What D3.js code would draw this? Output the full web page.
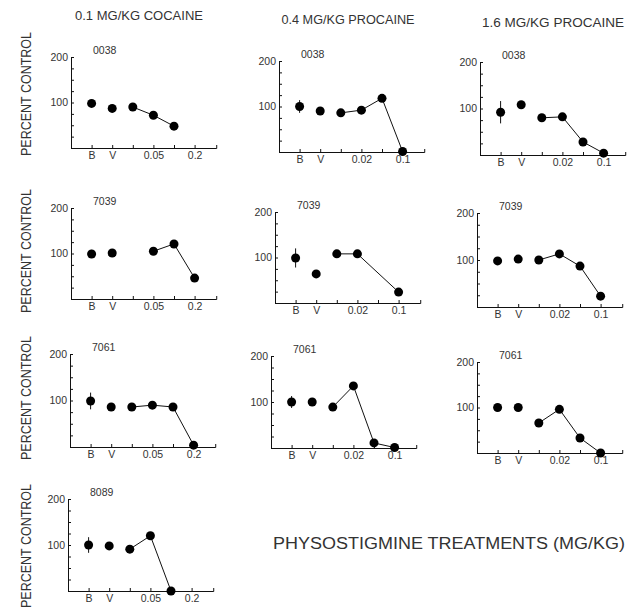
<!DOCTYPE html>
<html>
<head>
<meta charset="utf-8">
<script src="https://cdn.jsdelivr.net/npm/d3@7"></script>
<style>
  body { margin: 0; background: #fff; }
  svg text { font-family: 'Liberation Sans', 'DejaVu Sans', sans-serif; fill: #333; }
</style>
</head>
<body>
<div id="chart"></div>
<script>
var W = 636
var H = 607

// column headings (pretreatment)
var pretreatments = ['0.1 MG/KG COCAINE', '0.4 MG/KG PROCAINE', '1.6 MG/KG PROCAINE']
// x tick labels: B, V, then four physostigmine doses
var cocaineTicks = ['B', 'V', '', '0.05', '', '0.2']
var procaineTicks = ['B', 'V', '', '0.02', '', '0.1']

// percent control, null = not tested
var coc0038 = [98, 87, 90, 72, 48, null]
var coc7039 = [99, 101, null, 105, 121, 46]
var coc7061 = [99, 86, 86, 90, 86, 4]
var coc8089 = [100, 98, 91, 120, 0, null]
var lo0038 = [100, 90, 86, 92, 118, 1]
var lo7039 = [99, 64, 108, 108, null, 24]
var lo7061 = [100, 100, 89, 135, 11, 1]
var hi0038 = [92, 108, 80, 82, 28, 4]
var hi7039 = [98, 102, 100, 113, 87, 23]
var hi7061 = [100, 100, 66, 96, 33, 0]

// +/- on the baseline (B) point
var cocErrB = [0, 9, 18, 17]
var loErrB = [14, 21, 13]
var hiErrB = [24, 0, 0]

var panels = [
  { id: '0038', col: 0, vals: coc0038, err: cocErrB[0] },
  { id: '7039', col: 0, vals: coc7039, err: cocErrB[1] },
  { id: '7061', col: 0, vals: coc7061, err: cocErrB[2] },
  { id: '8089', col: 0, vals: coc8089, err: cocErrB[3] },
  { id: '0038', col: 1, vals: lo0038, err: loErrB[0] },
  { id: '7039', col: 1, vals: lo7039, err: loErrB[1] },
  { id: '7061', col: 1, vals: lo7061, err: loErrB[2] },
  { id: '0038', col: 2, vals: hi0038, err: hiErrB[0] },
  { id: '7039', col: 2, vals: hi7039, err: hiErrB[1] },
  { id: '7061', col: 2, vals: hi7061, err: hiErrB[2] }
]

// layout: y-axis x, y of 200, y of 0 (scanned page is a bit skewed)
var boxes = [
  [71, 57, 148], [71, 208, 299], [70, 354, 447], [68, 499, 591],
  [279, 61, 152], [275, 212, 303], [271, 356, 448],
  [480, 62, 155], [477, 213, 307], [477, 362, 453]
]
var step = 20.6
var xEnd = 7.05

var svg = d3.select('#chart')
  .append('svg')
  .attr('width', W)
  .attr('height', H)

svg.append('rect').attr('width', W).attr('height', H).attr('fill', '#fff')

// headings
var headX = [139, 348, 553]
var headY = [20, 24, 27]
var headLen = [128, 133, 142]
svg.selectAll('text.head')
  .data(pretreatments)
  .enter()
  .append('text')
  .attr('class', 'head')
  .attr('x', function (d, i) { return headX[i] - headLen[i] / 2 })
  .attr('y', function (d, i) { return headY[i] })
  .attr('textLength', function (d, i) { return headLen[i] })
  .attr('lengthAdjust', 'spacingAndGlyphs')
  .style('font-size', '12px')
  .text(function (d) { return d })

// PERCENT CONTROL, one per row
var rowMid = [94, 251, 398, 546]
rowMid.forEach(function (m) {
  svg.append('text')
    .attr('transform', 'translate(31,' + m + ') rotate(-90)')
    .attr('text-anchor', 'middle')
    .attr('textLength', 124)
    .attr('lengthAdjust', 'spacingAndGlyphs')
    .style('font-size', '14px')
    .text('PERCENT CONTROL')
})

panels.forEach(function (p, i) {
  var b = boxes[i]
  var x = d3.scaleLinear().domain([0, xEnd]).range([b[0], b[0] + xEnd * step])
  var y = d3.scaleLinear().domain([0, 200]).range([b[2], b[1]])
  var ticks = p.col === 0 ? cocaineTicks : procaineTicks
  var g = svg.append('g')

  var yAxis = d3.axisLeft(y)
    .tickValues([0, 25, 50, 75, 100, 125, 150, 175, 200])
    .tickSizeInner(-3)
    .tickSizeOuter(0)
    .tickPadding(3)
    .tickFormat(function (d) { return d === 100 || d === 200 ? d : '' })
  g.append('g')
    .attr('transform', 'translate(' + b[0] + ',0)')
    .call(yAxis)

  var xAxis = d3.axisBottom(x)
    .tickValues([1, 2, 3, 4, 5, 6])
    .tickSizeInner(-3)
    .tickSizeOuter(-3)
    .tickPadding(4)
    .tickFormat(function (d) { return ticks[d - 1] })
  g.append('g')
    .attr('transform', 'translate(0,' + b[2] + ')')
    .call(xAxis)

  g.selectAll('.domain, .tick line').attr('stroke', '#111').attr('stroke-width', 1)
  g.selectAll('.tick text')
    .style('font-size', '10.5px')
    .style('font-family', "'Liberation Sans', sans-serif")
    .attr('fill', '#333')

  svg.append('text')
    .attr('x', b[0] + 22)
    .attr('y', b[1] - 3)
    .style('font-size', '10.5px')
    .text(p.id)

  var pts = p.vals.map(function (v, k) { return { k: k + 1, v: v } })
    .filter(function (d) { return d.v !== null })
  var doses = pts.filter(function (d) { return d.k > 2 })

  var line = d3.line()
    .x(function (d) { return x(d.k) })
    .y(function (d) { return y(d.v) })
  g.append('path')
    .attr('d', line(doses))
    .attr('fill', 'none')
    .attr('stroke', '#111')
    .attr('stroke-width', 1)

  if (p.err > 0) {
    g.append('line')
      .attr('x1', x(1)).attr('x2', x(1))
      .attr('y1', y(p.vals[0] - p.err))
      .attr('y2', y(p.vals[0] + p.err))
      .attr('stroke', '#111')
      .attr('stroke-width', 1)
  }

  g.selectAll('circle')
    .data(pts)
    .enter()
    .append('circle')
    .attr('cx', function (d) { return x(d.k) })
    .attr('cy', function (d) { return y(d.v) })
    .attr('r', 4.5)
    .attr('fill', '#000')
})

svg.append('text')
  .attr('x', 273)
  .attr('y', 549)
  .attr('textLength', 352)
  .attr('lengthAdjust', 'spacingAndGlyphs')
  .style('font-size', '16px')
  .text('PHYSOSTIGMINE TREATMENTS (MG/KG)')
</script>
</body>
</html>
